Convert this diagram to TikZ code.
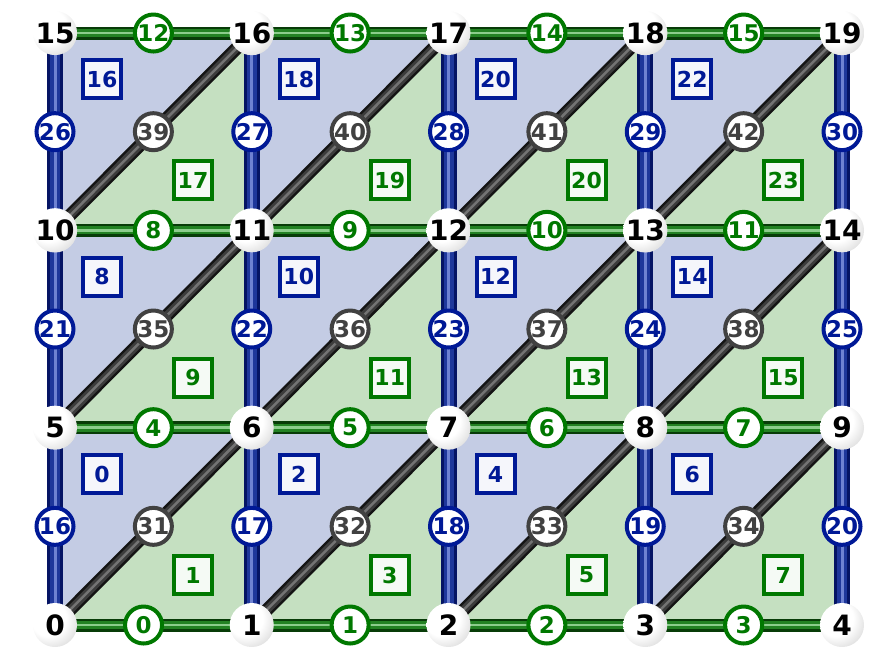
\documentclass[tikz,border=0pt]{standalone}
\usepackage{fontspec}
\setmainfont{DejaVu Sans}
\pgfdeclarelayer{bg}
\pgfsetlayers{bg,main}
\definecolor{bface}{RGB}{196,204,228}
\definecolor{gface}{RGB}{197,224,193}
\definecolor{gdark}{RGB}{8,60,8}
\definecolor{gmid}{RGB}{35,130,35}
\definecolor{glight}{RGB}{140,205,140}
\definecolor{bdark}{RGB}{5,20,100}
\definecolor{bmid}{RGB}{30,55,155}
\definecolor{blight}{RGB}{110,130,210}
\definecolor{kdark}{RGB}{20,20,20}
\definecolor{kmid}{RGB}{60,60,60}
\definecolor{klight}{RGB}{115,115,115}
\definecolor{gborder}{RGB}{0,120,0}
\definecolor{bborder}{RGB}{0,25,150}
\definecolor{kborder}{RGB}{65,65,65}
\pgfdeclareradialshading{sphere}{\pgfpoint{-10bp}{10bp}}{color(0bp)=(white); color(20bp)=(white); color(40bp)=(black!18); color(56bp)=(black!55); color(75bp)=(black!55)}
\pgfdeclareradialshading{glossy}{\pgfpoint{-8bp}{8bp}}{color(0bp)=(white); color(30bp)=(white); color(55bp)=(black!10); color(75bp)=(black!12)}
\tikzset{
  vert/.style={circle, shading=sphere, minimum size=44pt, inner sep=0pt, font=\fontsize{28}{28}\selectfont\bfseries, text=black},
  elab/.style={circle, shading=glossy, draw=#1, line width=4pt, text=#1, minimum size=37pt, inner sep=0pt, font=\fontsize{23}{23}\selectfont\bfseries},
  flab/.style={rectangle, fill=white!96!#1, draw=#1, line width=4pt, text=#1, minimum size=38pt, inner sep=0pt, font=\fontsize{22}{22}\selectfont\bfseries},
  gtube/.style={draw=gdark, line width=13pt, postaction={draw=gmid, line width=8pt}, postaction={draw=glight, line width=2.5pt}},
  btube/.style={draw=bdark, line width=16pt, postaction={draw=bmid, line width=10pt}, postaction={draw=blight, line width=3pt}},
  ktube/.style={draw=kdark, line width=13pt, postaction={draw=kmid, line width=8pt}, postaction={draw=klight, line width=2.5pt}},
}
\begin{document}
\begin{tikzpicture}[x=1pt,y=-1pt]
\useasboundingbox (0,0) rectangle (877,646);
% vertices
\foreach \j in {0,...,3}{
  \foreach \i in {0,...,4}{
    \pgfmathtruncatemacro{\v}{5*\j+\i}
    \node[vert] (v\v) at ({55+196.75*\i},{625-197.33*\j}) {\v};
  }
}
\begin{pgfonlayer}{bg}
% faces
\foreach \j in {0,...,2}{
  \foreach \i in {0,...,3}{
    \pgfmathtruncatemacro{\a}{5*\j+\i}
    \pgfmathtruncatemacro{\b}{5*\j+\i+1}
    \pgfmathtruncatemacro{\c}{5*\j+\i+5}
    \pgfmathtruncatemacro{\d}{5*\j+\i+6}
    \fill[bface] (v\a.center) -- (v\c.center) -- (v\d.center) -- cycle;
    \fill[gface] (v\a.center) -- (v\b.center) -- (v\d.center) -- cycle;
  }
}
% horizontal tubes
\foreach \j in {0,...,3}{
  \foreach \i in {0,...,3}{
    \pgfmathtruncatemacro{\a}{5*\j+\i}
    \pgfmathtruncatemacro{\b}{5*\j+\i+1}
    \draw[gtube] (v\a.center) -- (v\b.center);
  }
}
% vertical tubes
\foreach \j in {0,...,2}{
  \foreach \i in {0,...,4}{
    \pgfmathtruncatemacro{\a}{5*\j+\i}
    \pgfmathtruncatemacro{\c}{5*\j+\i+5}
    \draw[btube] (v\a.center) -- (v\c.center);
  }
}
% diagonal tubes
\foreach \j in {0,...,2}{
  \foreach \i in {0,...,3}{
    \pgfmathtruncatemacro{\a}{5*\j+\i}
    \pgfmathtruncatemacro{\d}{5*\j+\i+6}
    \draw[ktube] (v\a.center) -- (v\d.center);
  }
}
\end{pgfonlayer}
% horizontal edge labels
\foreach \j in {0,...,3}{
  \foreach \i in {0,...,3}{
    \pgfmathtruncatemacro{\a}{5*\j+\i}
    \pgfmathtruncatemacro{\b}{5*\j+\i+1}
    \pgfmathtruncatemacro{\e}{4*\j+\i}
    \pgfmathsetmacro{\p}{ifthenelse(\e==0,0.45,0.5)}
    \path (v\a.center) -- node[elab=gborder, pos=\p] (e\e) {\e} (v\b.center);
  }
}
% vertical edge labels
\foreach \j in {0,...,2}{
  \foreach \i in {0,...,4}{
    \pgfmathtruncatemacro{\a}{5*\j+\i}
    \pgfmathtruncatemacro{\c}{5*\j+\i+5}
    \pgfmathtruncatemacro{\e}{16+5*\j+\i}
    \path (v\a.center) -- node[elab=bborder] (e\e) {\e} (v\c.center);
  }
}
% diagonal edge labels
\foreach \j in {0,...,2}{
  \foreach \i in {0,...,3}{
    \pgfmathtruncatemacro{\a}{5*\j+\i}
    \pgfmathtruncatemacro{\d}{5*\j+\i+6}
    \pgfmathtruncatemacro{\e}{31+4*\j+\i}
    \path (v\a.center) -- node[elab=kborder] (e\e) {\e} (v\d.center);
  }
}
% face labels
\foreach \j in {0,...,2}{
  \foreach \i in {0,...,3}{
    \pgfmathtruncatemacro{\a}{5*\j+\i}
    \pgfmathtruncatemacro{\fb}{2*(4*\j+\i)}
    \pgfmathtruncatemacro{\fg}{ifthenelse(\fb==20,20,2*(4*\j+\i)+1)}
    \pgfmathtruncatemacro{\fgn}{2*(4*\j+\i)+1}
    \node[flab=bborder] (f\fb) at ([shift={(47,-151)}]v\a.center) {\fb};
    \node[flab=gborder] (f\fgn) at ([shift={(138,-50)}]v\a.center) {\fg};
  }
}
\end{tikzpicture}
\end{document}
